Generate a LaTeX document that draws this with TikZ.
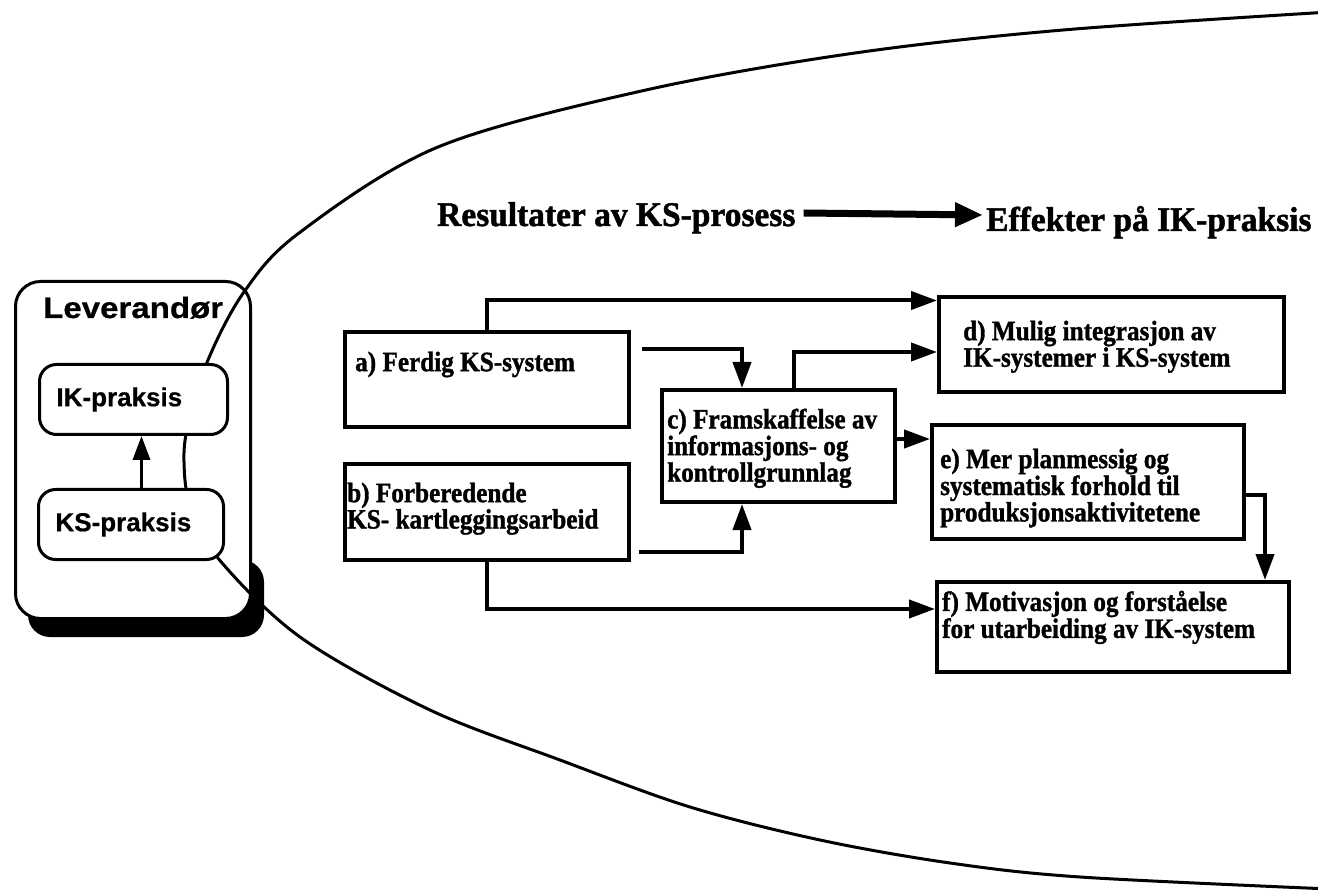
\documentclass[tikz,border=0pt]{standalone}
\usepackage{fontspec}
\setmainfont{Liberation Serif}
\newfontfamily\boxfont[FakeStretch=0.9, FakeBold=1.2]{Liberation Serif}
\newfontfamily\headfont[FakeStretch=0.97, FakeBold=1.4]{Liberation Serif}
\newfontfamily\levsans[FakeBold=0.6]{Liberation Sans}
\newfontfamily\levwide[FakeStretch=1.12, FakeBold=0.6]{Liberation Sans}
\usetikzlibrary{arrows.meta}
\begin{document}
\begin{tikzpicture}[x=1pt,y=-1pt,
  box/.style={draw, line width=4pt, fill=white, inner sep=0pt, anchor=north west},
  rbox/.style={draw, line width=3pt, fill=white, rounded corners=17pt, anchor=north west,
    inner ysep=0pt, inner xsep=17pt, align=left, minimum height=70pt,
    font=\levsans\bfseries\fontsize{26}{28}\selectfont},
  btext/.style={anchor=north west, inner sep=0pt, align=left,
    font=\boxfont\bfseries\fontsize{28}{23.5}\selectfont},
  htext/.style={anchor=base west, inner sep=0pt, font=\headfont\bfseries\fontsize{34.5}{36}\selectfont},
  conn/.style={line width=4pt, -{Triangle[length=26pt,width=18pt]}},
  curve/.style={line width=3pt},
]
\useasboundingbox (0,0) rectangle (1318,890);
\fill[white] (0,0) rectangle (1318,890);

% Leverandor box with shadow
\fill[black, rounded corners=22pt] (28,560) rectangle (264,637);
\node[draw, line width=3pt, fill=white, rounded corners=25pt, anchor=north west,
  minimum width=235pt, minimum height=337pt, inner sep=0pt] (lev) at (14,280) {};
\node[anchor=base west, inner sep=0pt, font=\levwide\bfseries\fontsize{29.5}{32}\selectfont]
  (levt) at (43,318) {Leverandør};

% big oval
\draw[curve] plot[smooth, tension=0.55] coordinates {
  (1330,12) (1063,30) (855,53) (646,90) (438,147) (299,233) (244,292)
  (208,360) (188,425) (184,462) (190,505) (217,557) (300,637) (430,710)
  (560,760) (690,807) (820,840) (950,863) (1080,877) (1330,889)};

% inner practice boxes
\node[rbox, text width=154pt] (ik) at (38,363) {IK-praksis};
\node[rbox, text width=151pt] (ks) at (37,488) {KS-praksis};
\coordinate (kstop) at ([xshift=10.5pt]ks.north);
\draw[line width=3.5pt, -{Triangle[length=24pt,width=17pt]}] (kstop) -- (kstop |- ik.south);

% header
\node[htext] (res) at (437,226) {Resultater av KS-prosess};
\node[htext] (eff) at (986,231) {Effekter på IK-praksis};
\coordinate (hs) at ([xshift=8pt,yshift=13pt]res.base east);
\coordinate (he) at ([xshift=-3pt,yshift=16pt]eff.base west);
\draw[line width=7pt, -{Triangle[length=28pt,width=23pt]}] (hs) -- (he);

% boxes
\node[box, minimum width=284pt, minimum height=95pt] (a) at (343,330) {};
\node[box, minimum width=284pt, minimum height=96pt] (b) at (343,462) {};
\node[box, minimum width=233pt, minimum height=112pt] (c) at (660,388) {};
\node[box, minimum width=345pt, minimum height=95pt] (d) at (937,295) {};
\node[box, minimum width=312pt, minimum height=114pt] (e) at (930,423) {};
\node[box, minimum width=352pt, minimum height=90pt] (f) at (935,580) {};

\node[btext] (ta) at (355,351.5) {a) Ferdig KS-system};
\node[btext] (tb) at (347,482.5) {b) Forberedende\\KS- kartleggingsarbeid};
\node[btext] (tc) at (667,408.5) {c) Framskaffelse av\\informasjons- og\\kontrollgrunnlag};
\node[btext] (td) at (963,320.5) {d) Mulig integrasjon av\\IK-systemer i KS-system};
\node[btext] (te) at (940,448.5) {e) Mer planmessig og\\systematisk forhold til\\produksjonsaktivitetene};
\node[btext] (tf) at (942,590.5) {f) Motivasjon og forståelse\\for utarbeiding av IK-system};

% connectors
\draw[conn] (a.north) |- ([yshift=44pt]d.west);
\draw[conn] ([xshift=11pt,yshift=30.5pt]a.east) -| ([xshift=-36.5pt]c.north);
\draw[conn] ([xshift=15.5pt]c.north) |- ([yshift=-7.5pt]d.west);
\draw[conn] ([yshift=7pt]c.east) -- ([yshift=7pt]c.east -| e.west);
\draw[conn] ([xshift=8pt,yshift=-40pt]b.east) -| ([xshift=-36.5pt]c.south);
\draw[conn] (b.south) |- ([yshift=18pt]f.west);
\draw[conn] ([yshift=-13pt]e.east) -| ([xshift=152pt]f.north);
\end{tikzpicture}
\end{document}
